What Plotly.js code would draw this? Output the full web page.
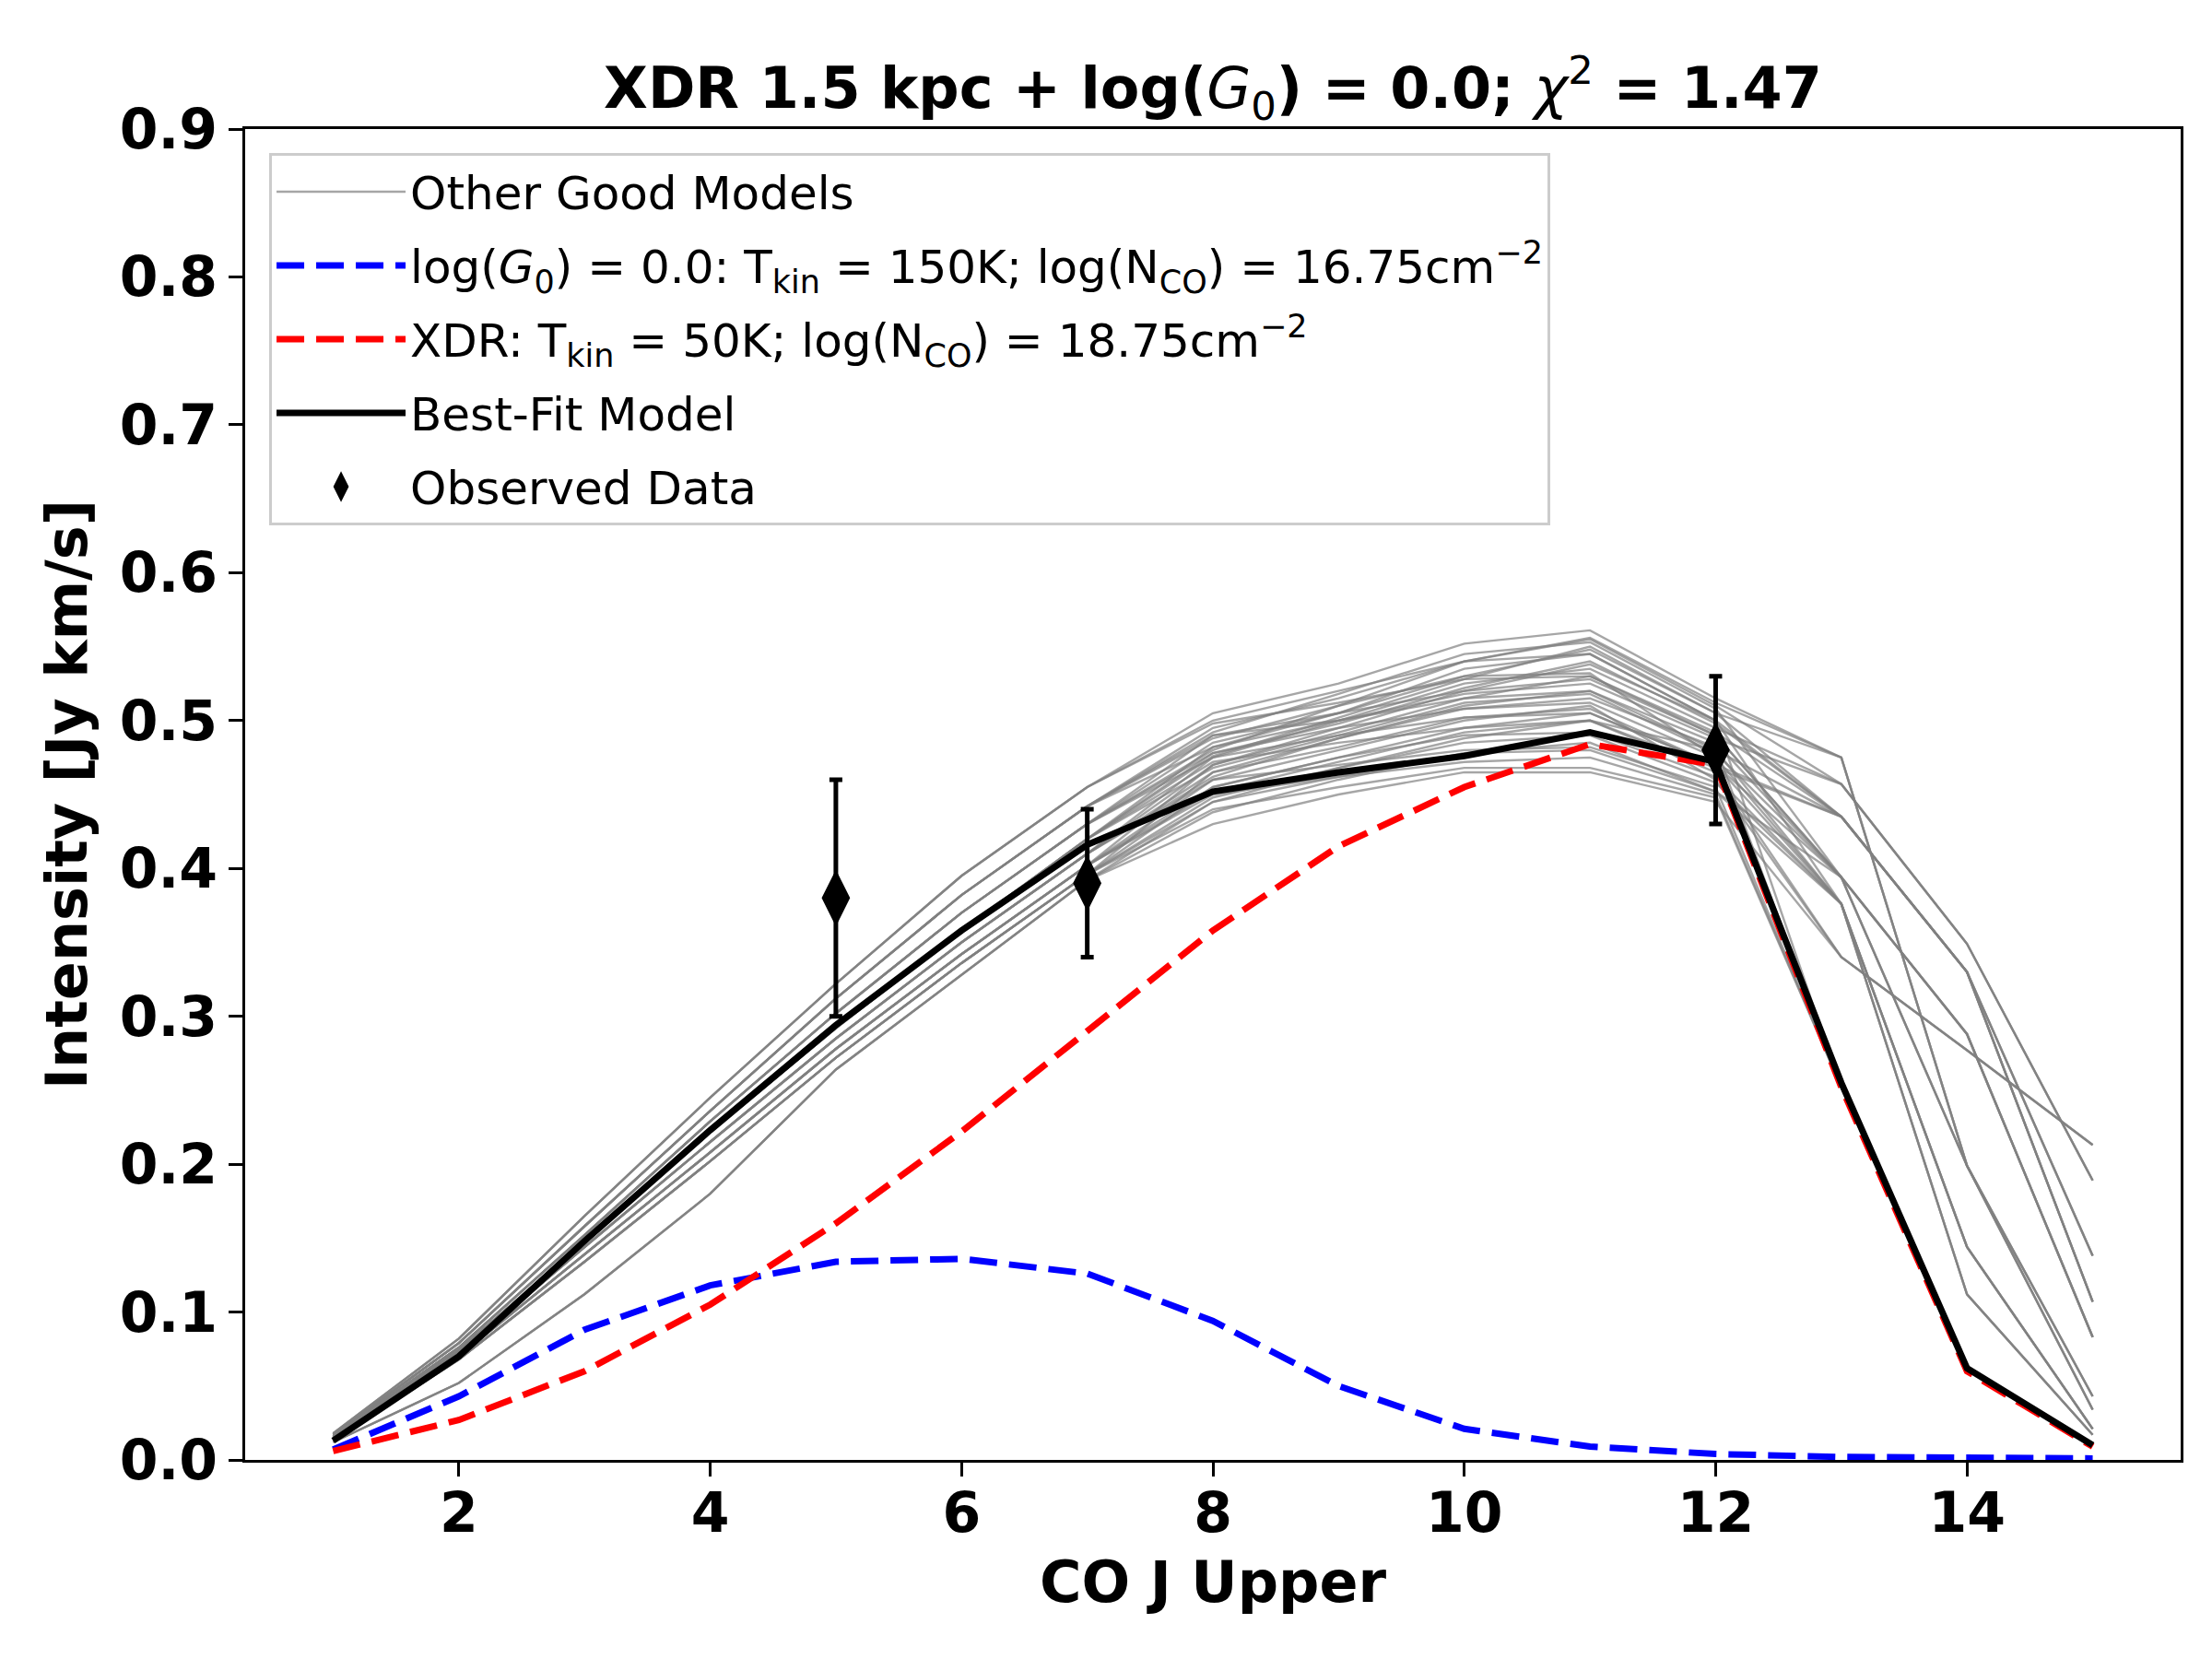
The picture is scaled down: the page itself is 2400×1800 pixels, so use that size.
<!DOCTYPE html>
<html><head><meta charset="utf-8">
<script src="https://cdn.plot.ly/plotly-3.0.1.min.js"></script>
<style>html,body{margin:0;padding:0;background:#fff}#chart{width:2400px;height:1800px}</style>
</head><body><div id="chart"></div>
<script>
// CO J upper levels
const jUpper = [1,2,3,4,5,6,7,8,9,10,11,12,13,14,15];

// log(G0)=0.0 PDR component (blue dashed)
const pdrComponent = [0.007,0.043,0.088,0.118,0.134,0.136,0.126,0.094,0.050,0.021,0.009,0.004,0.002,0.001,0.001];
// XDR component (red dashed)
const xdrComponent = [0.006,0.027,0.060,0.105,0.160,0.222,0.290,0.358,0.415,0.455,0.484,0.470,0.252,0.060,0.009];
// Best-fit model (black)
const bestFit = [0.013,0.070,0.148,0.223,0.294,0.358,0.416,0.452,0.465,0.476,0.492,0.472,0.255,0.062,0.010];

// Observed data
const obsJ = [5,7,12];
const obsIntensity = [0.38,0.39,0.48];
const obsError = [0.08,0.05,0.05];

// Other good models (gray)
const otherGoodModels = [
 [0.018,0.082,0.165,0.245,0.322,0.395,0.455,0.505,0.525,0.552,0.561,0.515,0.475,0.199,0.043],
 [0.017,0.079,0.158,0.236,0.312,0.382,0.442,0.495,0.515,0.540,0.555,0.510,0.457,0.349,0.189],
 [0.016,0.076,0.152,0.229,0.302,0.370,0.430,0.485,0.505,0.530,0.548,0.505,0.435,0.330,0.107],
 [0.015,0.074,0.148,0.222,0.292,0.358,0.420,0.478,0.498,0.522,0.540,0.498,0.435,0.330,0.138],
 [0.015,0.072,0.144,0.215,0.285,0.350,0.410,0.470,0.492,0.515,0.530,0.490,0.394,0.288,0.083],
 [0.014,0.070,0.139,0.208,0.278,0.342,0.402,0.460,0.480,0.500,0.510,0.460,0.340,0.277,0.213],
 [0.013,0.068,0.134,0.202,0.272,0.336,0.396,0.455,0.475,0.495,0.505,0.470,0.376,0.144,0.021],
 [0.012,0.052,0.112,0.180,0.264,0.328,0.392,0.445,0.468,0.488,0.500,0.480,0.376,0.112,0.017],
 [0.016,0.076,0.152,0.229,0.302,0.370,0.430,0.490,0.500,0.515,0.520,0.485,0.394,0.199,0.034],
 [0.015,0.074,0.148,0.222,0.292,0.358,0.420,0.482,0.505,0.535,0.545,0.500,0.435,0.330,0.107],
 [0.015,0.072,0.144,0.215,0.285,0.350,0.410,0.475,0.500,0.525,0.535,0.495,0.457,0.349,0.189],
 [0.014,0.070,0.139,0.208,0.278,0.342,0.402,0.470,0.495,0.520,0.528,0.490,0.394,0.288,0.083],
 [0.013,0.068,0.134,0.202,0.272,0.336,0.396,0.465,0.488,0.510,0.520,0.480,0.435,0.330,0.138],
 [0.017,0.079,0.158,0.236,0.312,0.382,0.442,0.488,0.510,0.530,0.532,0.475,0.376,0.144,0.021],
 [0.018,0.082,0.165,0.245,0.322,0.395,0.455,0.500,0.520,0.540,0.545,0.500,0.376,0.112,0.017],
 [0.015,0.074,0.148,0.222,0.292,0.358,0.420,0.472,0.485,0.495,0.500,0.465,0.340,0.277,0.213],
 [0.015,0.072,0.144,0.215,0.285,0.350,0.410,0.460,0.470,0.480,0.482,0.455,0.252,0.062,0.010],
 [0.014,0.070,0.139,0.208,0.278,0.342,0.402,0.450,0.462,0.472,0.475,0.450,0.252,0.062,0.010],
 [0.013,0.068,0.134,0.202,0.272,0.336,0.396,0.440,0.455,0.468,0.468,0.448,0.252,0.062,0.010],
 [0.012,0.052,0.112,0.180,0.264,0.328,0.392,0.430,0.450,0.465,0.465,0.445,0.340,0.277,0.213],
 [0.016,0.076,0.152,0.229,0.302,0.370,0.430,0.480,0.510,0.540,0.556,0.512,0.475,0.199,0.043],
 [0.017,0.079,0.158,0.236,0.312,0.382,0.442,0.492,0.518,0.545,0.553,0.508,0.394,0.199,0.034],
 [0.015,0.074,0.148,0.222,0.292,0.358,0.420,0.468,0.490,0.512,0.518,0.478,0.394,0.288,0.083],
 [0.015,0.072,0.144,0.215,0.285,0.350,0.410,0.465,0.482,0.502,0.508,0.470,0.435,0.330,0.107],
 [0.014,0.070,0.139,0.208,0.278,0.342,0.402,0.455,0.475,0.490,0.492,0.462,0.376,0.144,0.021],
 [0.013,0.068,0.134,0.202,0.272,0.336,0.396,0.448,0.468,0.485,0.490,0.458,0.376,0.112,0.017],
 [0.016,0.076,0.152,0.229,0.302,0.370,0.430,0.478,0.495,0.508,0.512,0.475,0.252,0.062,0.010],
 [0.017,0.079,0.158,0.236,0.312,0.382,0.442,0.482,0.500,0.518,0.525,0.488,0.457,0.349,0.189],
 [0.018,0.082,0.165,0.245,0.322,0.395,0.455,0.498,0.512,0.528,0.530,0.492,0.435,0.330,0.138],
 [0.012,0.052,0.112,0.180,0.264,0.328,0.392,0.438,0.460,0.478,0.485,0.452,0.394,0.199,0.034],
 [0.015,0.074,0.148,0.222,0.292,0.358,0.420,0.476,0.502,0.528,0.550,0.505,0.475,0.199,0.043],
 [0.015,0.072,0.144,0.215,0.285,0.350,0.410,0.462,0.488,0.508,0.515,0.482,0.252,0.062,0.010],
 [0.014,0.070,0.139,0.208,0.278,0.342,0.402,0.452,0.472,0.492,0.500,0.468,0.435,0.330,0.107],
 [0.016,0.076,0.152,0.229,0.302,0.370,0.430,0.475,0.490,0.502,0.505,0.470,0.394,0.288,0.083],
 [0.013,0.068,0.134,0.202,0.272,0.336,0.396,0.445,0.462,0.478,0.480,0.452,0.376,0.144,0.021],
 [0.017,0.079,0.158,0.236,0.312,0.382,0.442,0.490,0.505,0.520,0.538,0.500,0.252,0.062,0.010]
];

const xTickVals = [2,4,6,8,10,12,14];
const yTickVals = [0,0.1,0.2,0.3,0.4,0.5,0.6,0.7,0.8,0.9];

const legendNames = {
  other: 'Other Good Models',
  pdr: 'log(<i>G</i><sub>0</sub>) = 0.0: T<sub>kin</sub> = 150K; log(N<sub>CO</sub>) = 16.75cm<sup>\u22122</sup>',
  xdr: 'XDR: T<sub>kin</sub> = 50K; log(N<sub>CO</sub>) = 18.75cm<sup>\u22122</sup>',
  best: 'Best-Fit Model',
  obs: 'Observed Data'
};

const traces = [];
otherGoodModels.forEach((m, i) => {
  traces.push({
    x: jUpper, y: m, type: 'scatter', mode: 'lines',
    line: {color: 'rgba(128,128,128,0.7)', width: 2.4},
    name: legendNames.other, legendgroup: 'other', showlegend: i === 0,
    hoverinfo: 'skip'
  });
});
traces.push({x: jUpper, y: pdrComponent, type: 'scatter', mode: 'lines',
  line: {color: '#0000ff', width: 7, dash: '30px,13px'}, name: legendNames.pdr, legendgroup: 'pdr'});
traces.push({x: jUpper, y: xdrComponent, type: 'scatter', mode: 'lines',
  line: {color: '#ff0000', width: 7, dash: '30px,13px'}, name: legendNames.xdr, legendgroup: 'xdr'});
traces.push({x: jUpper, y: bestFit, type: 'scatter', mode: 'lines',
  line: {color: '#000000', width: 7}, name: legendNames.best, legendgroup: 'best'});
traces.push({x: obsJ, y: obsIntensity, type: 'scatter', mode: 'markers',
  marker: {symbol: 'diamond-tall', size: 36, color: '#000', line: {color: '#000', width: 5}},
  error_y: {type: 'data', array: obsError, visible: true, color: '#000', thickness: 5, width: 7},
  name: legendNames.obs, legendgroup: 'obs'});

const axisCommon = {
  showline: true, linecolor: '#000', linewidth: 3, mirror: true,
  ticks: 'outside', ticklen: 15, tickwidth: 3, tickcolor: '#000',
  showgrid: false, zeroline: false,
  tickfont: {family: 'DejaVu Sans', size: 60, weight: 'bold', color: '#000'}
};

const layout = {
  width: 2400, height: 1800,
  paper_bgcolor: '#fff', plot_bgcolor: '#fff',
  margin: {l: 266, r: 34, t: 140, b: 216},
  font: {family: 'DejaVu Sans', size: 60, color: '#000'},
  showlegend: true,
  title: {
    text: '<b>XDR 1.5 kpc + log(</b><span style="font-weight:normal"><i>G</i><sub>0</sub></span><b>) = 0.0; </b><span style="font-weight:normal"><i>\u03c7</i><sup>2</sup></span><b> = 1.47</b>',
    font: {family: 'DejaVu Sans', size: 62, color: '#000'},
    xref: 'paper', x: 0.5, xanchor: 'center',
    yref: 'container', y: 1 - 95/1800, yanchor: 'middle'
  },
  xaxis: Object.assign({}, axisCommon, {
    range: [0.3, 15.7], tickmode: 'array', tickvals: xTickVals,
    ticklabelstandoff: -12,
    title: {text: 'CO J Upper', font: {family: 'DejaVu Sans', size: 62, weight: 'bold', color: '#000'}, standoff: 20}
  }),
  yaxis: Object.assign({}, axisCommon, {
    range: [0, 0.9], tickmode: 'array', tickvals: yTickVals, tickformat: '.1f',
    ticklabelstandoff: 0,
    title: {text: 'Intensity [Jy km/s]', font: {family: 'DejaVu Sans', size: 62, weight: 'bold', color: '#000'}, standoff: 16}
  }),
  legend: {
    x: 0.0124, y: 0.982, xanchor: 'left', yanchor: 'top',
    bgcolor: 'rgba(255,255,255,0.8)', bordercolor: '#cccccc', borderwidth: 3,
    font: {family: 'DejaVu Sans', size: 50, color: '#000'},
    tracegroupgap: 12, itemwidth: 140, traceorder: 'grouped'
  }
};

Plotly.newPlot('chart', traces, layout, {displayModeBar: false, staticPlot: true});
</script>
</body></html>
